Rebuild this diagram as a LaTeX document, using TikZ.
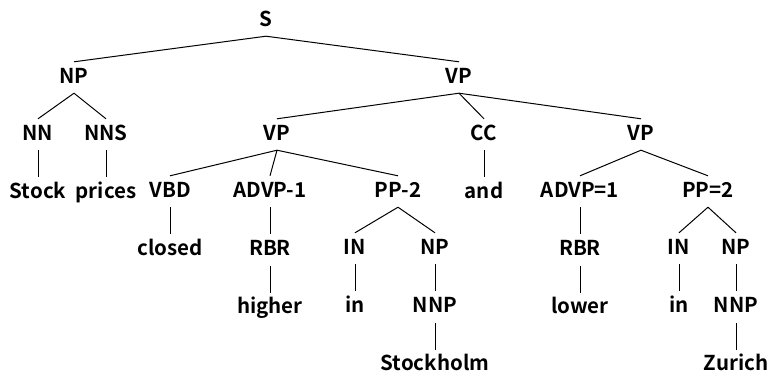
\documentclass[tikz,border=0pt]{standalone}
\usepackage{fontspec}
\setmainfont{Noto Sans CJK JP}[BoldFont={Noto Sans CJK JP Bold}]
\usetikzlibrary{positioning}

\begin{document}
\begin{tikzpicture}[
    x=1pt, y=-1pt,
    node distance=27pt,
    % Define styles
    tag/.style={font=\fontsize{20.5}{24}\selectfont\bfseries, text height=18pt, text depth=7pt, inner xsep=0pt, inner ysep=3pt, anchor=base},
    word/.style={tag, text depth=0pt, inner ysep=2pt, text height=19pt},
    edge/.style={line width=1pt}
]
    \useasboundingbox (0,3) rectangle (769,381);

    % --- ROOT AND PHRASES ---
    \node (s) [tag] at (266,29) {S};
    \node (np) [tag] at (74,86) {NP};
    \node (vp) [tag] at (459,86) {VP};

    \node (nn) [tag] at (38,143) {NN};
    \node (nns) [tag] at (106,143) {NNS};
    \node (vp_left) [tag] at (277,143) {VP};
    \node (cc) [tag] at (484,143) {CC};
    \node (vp_right) [tag] at (641,143) {VP};

    % --- LEFT CONJUNCT ---
    \node (stock) [word, below=of nn] {Stock};
    \node (prices) [word, below=of nns] {prices};
    \node (vbd) [tag] at (170,200) {VBD};
    \node (advp_one) [tag] at (270,200) {ADVP-1};
    \node (pp_two) [tag] at (398,200) {PP-2};
    \node (and) [word, below=of cc] {and};

    \node (closed) [word, below=of vbd] {closed};
    \node (rbr_left) [tag, below=of advp_one] {RBR};
    \node (in_left) [tag] at (355,257) {IN};
    \node (np_left) [tag] at (435,257) {NP};
    \node (higher) [word, below=of rbr_left] {higher};
    \node (in_word_left) [word, below=of in_left] {in};
    \node (nnp_left) [tag, below=of np_left] {NNP};
    \node (stockholm) [word, below=of nnp_left] {Stockholm};

    % --- RIGHT CONJUNCT ---
    \node (advp_eq) [tag] at (580,200) {ADVP=1};
    \node (pp_eq) [tag] at (708,200) {PP=2};
    \node (rbr_right) [tag, below=of advp_eq] {RBR};
    \node (in_right) [tag] at (679,257) {IN};
    \node (np_right) [tag] at (736,257) {NP};
    \node (lower) [word, below=of rbr_right] {lower};
    \node (in_word_right) [word, below=of in_right] {in};
    \node (nnp_right) [tag, below=of np_right] {NNP};
    \node (zurich) [word, below=of nnp_right] {Zurich};

    % --- DRAW BRANCHES ---
    \draw [edge] (s.south) -- (np.north);
    \draw [edge] (s.south) -- (vp.north);
    \draw [edge] (np.south) -- (nn.north);
    \draw [edge] (np.south) -- (nns.north);
    \draw [edge] (nn.south) -- (stock.north);
    \draw [edge] (nns.south) -- (prices.north);

    \draw [edge] (vp.south) -- (vp_left.north);
    \draw [edge] (vp.south) -- (cc.north);
    \draw [edge] (vp.south) -- (vp_right.north);
    \draw [edge] (cc.south) -- (and.north);

    \draw [edge] (vp_left.south) -- (vbd.north);
    \draw [edge] (vp_left.south) -- (advp_one.north);
    \draw [edge] (vp_left.south) -- (pp_two.north);
    \draw [edge] (vbd.south) -- (closed.north);
    \draw [edge] (advp_one.south) -- (rbr_left.north);
    \draw [edge] (rbr_left.south) -- (higher.north);
    \draw [edge] (pp_two.south) -- (in_left.north);
    \draw [edge] (pp_two.south) -- (np_left.north);
    \draw [edge] (in_left.south) -- (in_word_left.north);
    \draw [edge] (np_left.south) -- (nnp_left.north);
    \draw [edge] (nnp_left.south) -- (stockholm.north);

    \draw [edge] (vp_right.south) -- (advp_eq.north);
    \draw [edge] (vp_right.south) -- (pp_eq.north);
    \draw [edge] (advp_eq.south) -- (rbr_right.north);
    \draw [edge] (rbr_right.south) -- (lower.north);
    \draw [edge] (pp_eq.south) -- (in_right.north);
    \draw [edge] (pp_eq.south) -- (np_right.north);
    \draw [edge] (in_right.south) -- (in_word_right.north);
    \draw [edge] (np_right.south) -- (nnp_right.north);
    \draw [edge] (nnp_right.south) -- (zurich.north);

\end{tikzpicture}
\end{document}
